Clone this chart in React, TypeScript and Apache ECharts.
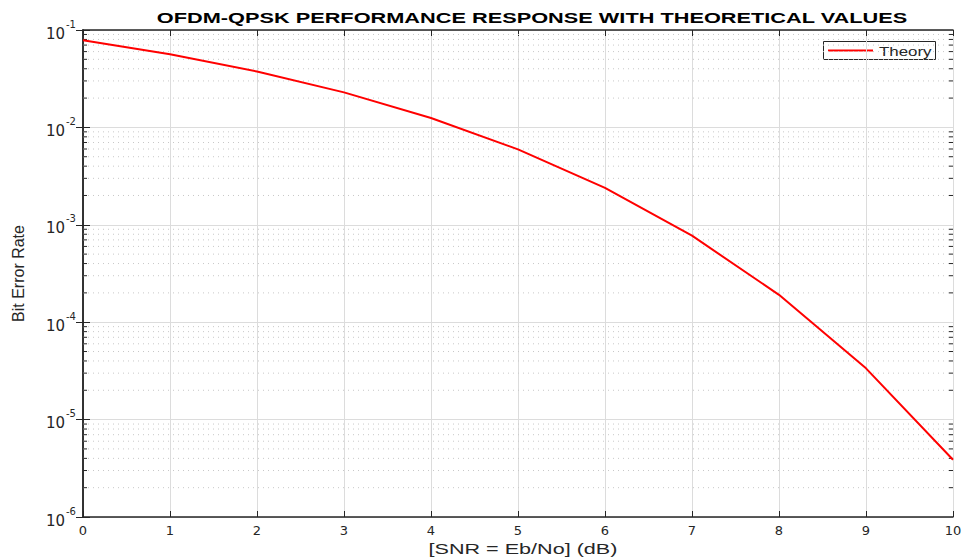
import React, { useEffect, useRef } from "react";
import * as echarts from "echarts";

const snrDb = [0, 1, 2, 3, 4, 5, 6, 7, 8, 9, 10];
const berTheory = [0.0786, 0.0563, 0.0375, 0.0229, 0.0125, 0.00595, 0.00239, 0.000773, 0.000191, 3.36e-5, 3.87e-6];
const decades = [1e-6, 1e-5, 1e-4, 1e-3, 1e-2];
const minorMultipliers = [2, 3, 4, 5, 6, 7, 8, 9];
const xTicks = [0, 1, 2, 3, 4, 5, 6, 7, 8, 9, 10];
const seriesName = "Theory";
const titleText = "OFDM-QPSK PERFORMANCE RESPONSE WITH THEORETICAL VALUES";
const xName = "[SNR = Eb/No] (dB)";
const yName = "Bit Error Rate";

const minorValues: number[] = [];
decades.forEach((d) => minorMultipliers.forEach((m) => minorValues.push(d * m)));

const FONT = "Liberation Sans, Arial, Helvetica, sans-serif";
const WIDE = "DejaVu Sans, sans-serif";
const INK = "#262626";

export default function App() {
  const ref = useRef<HTMLDivElement>(null);
  useEffect(() => {
    document.body.style.margin = "0";
    const chart = echarts.init(ref.current!, null, { renderer: "svg" });
    const supLabel = (v: number) => {
      const e = Math.round(Math.log10(v));
      return `{b|10}{s|${e}}`;
    };
    const richLab = {
      b: { fontSize: 15, fontFamily: WIDE, color: INK, lineHeight: 22, verticalAlign: "bottom" },
      s: { fontSize: 10, fontFamily: WIDE, color: INK, lineHeight: 22, verticalAlign: "top", padding: [0, 0, 0, 1] },
    };
    const axisLine = { show: true, lineStyle: { color: INK, width: 1.5 } };
    chart.setOption({
      animation: false,
      backgroundColor: "#ffffff",
      graphic: [
        {
          type: "text",
          x: 532,
          y: 18,
          scaleX: 1.45,
          style: {
            text: titleText,
            textAlign: "center",
            textVerticalAlign: "middle",
            fontFamily: FONT,
            fontSize: 15,
            fontWeight: "bold",
            fill: "#000",
          },
        },
        {
          type: "text",
          x: 523,
          y: 549,
          scaleX: 1.44,
          style: {
            text: xName,
            textAlign: "center",
            textVerticalAlign: "middle",
            fontFamily: FONT,
            fontSize: 15,
            fill: INK,
          },
        },
        {
          type: "group",
          z: 100,
          children: [
            {
              type: "rect",
              shape: { x: 823.5, y: 41.5, width: 112, height: 18 },
              style: { fill: "#fff", stroke: INK, lineWidth: 1 },
            },
            {
              type: "line",
              shape: { x1: 828, y1: 50.5, x2: 873, y2: 50.5 },
              style: { stroke: "#ff0000", lineWidth: 2 },
            },
            {
              type: "text",
              x: 879,
              y: 51,
              scaleX: 1.3,
              style: {
                text: seriesName,
                textAlign: "left",
                textVerticalAlign: "middle",
                fontFamily: FONT,
                fontSize: 13,
                fill: INK,
              },
            },
          ],
        },
      ],
      grid: { left: 83, right: 14, top: 30, bottom: 40, containLabel: false },
      xAxis: [
        {
          type: "value",
          min: 0,
          max: 10,
          interval: 1,
          position: "bottom",
          axisLine,
          axisTick: { inside: true, length: 6, lineStyle: { color: INK } },
          axisLabel: {
            fontFamily: WIDE,
            fontSize: 13,
            color: INK,
            margin: 7,
            formatter: (v: number) => (xTicks.includes(v) ? String(v) : ""),
          },
          splitLine: { show: true, lineStyle: { color: "#dcdcdc", width: 1 } },
        },
        {
          type: "value",
          min: 0,
          max: 10,
          interval: 1,
          position: "top",
          axisLine,
          axisTick: { inside: true, length: 6, lineStyle: { color: INK } },
          axisLabel: { show: false },
          splitLine: { show: false },
        },
      ],
      yAxis: [
        {
          type: "log",
          logBase: 10,
          min: 1e-6,
          max: 1e-1,
          position: "left",
          name: yName,
          nameLocation: "middle",
          nameGap: 57,
          nameRotate: 90,
          nameTextStyle: { fontFamily: FONT, fontSize: 16, color: INK },
          axisLine,
          axisTick: { inside: true, length: 7, lineStyle: { color: INK } },
          axisLabel: { formatter: supLabel, rich: richLab, margin: 7 },
          splitLine: { show: true, lineStyle: { color: "#dcdcdc", width: 1 } },
        },
        {
          type: "log",
          logBase: 10,
          min: 1e-6,
          max: 1e-1,
          position: "right",
          axisLine,
          axisTick: { inside: true, length: 7, lineStyle: { color: INK } },
          axisLabel: { show: false },
          splitLine: { show: false },
        },
      ],
      series: [
        {
          type: "custom",
          name: "minor",
          silent: true,
          xAxisIndex: 0,
          yAxisIndex: 0,
          data: minorValues.map((v) => [0, v]),
          encode: { x: 0, y: 1 },
          renderItem: (params: any, api: any) => {
            const y = api.value(1);
            const p0 = api.coord([0, y]);
            const p1 = api.coord([10, y]);
            return {
              type: "group",
              children: [
                {
                  type: "line",
                  shape: { x1: p0[0], y1: p0[1], x2: p1[0], y2: p1[1] },
                  style: { stroke: "#c8c8c8", lineWidth: 1, lineDash: [1, 4] },
                },
                {
                  type: "line",
                  shape: { x1: p0[0], y1: p0[1], x2: p0[0] + 4, y2: p0[1] },
                  style: { stroke: INK, lineWidth: 1 },
                },
                {
                  type: "line",
                  shape: { x1: p1[0] - 4, y1: p1[1], x2: p1[0], y2: p1[1] },
                  style: { stroke: INK, lineWidth: 1 },
                },
              ],
            };
          },
          z: 1,
        },
        {
          type: "line",
          name: seriesName,
          xAxisIndex: 0,
          yAxisIndex: 0,
          data: snrDb.map((x, i) => [x, berTheory[i]]),
          showSymbol: false,
          symbol: "none",
          lineStyle: { color: "#ff0000", width: 2 },
          itemStyle: { color: "#ff0000" },
          z: 5,
        },
      ],
    });
    return () => chart.dispose();
  }, []);
  return <div ref={ref} style={{ width: 967, height: 557 }} />;
}
